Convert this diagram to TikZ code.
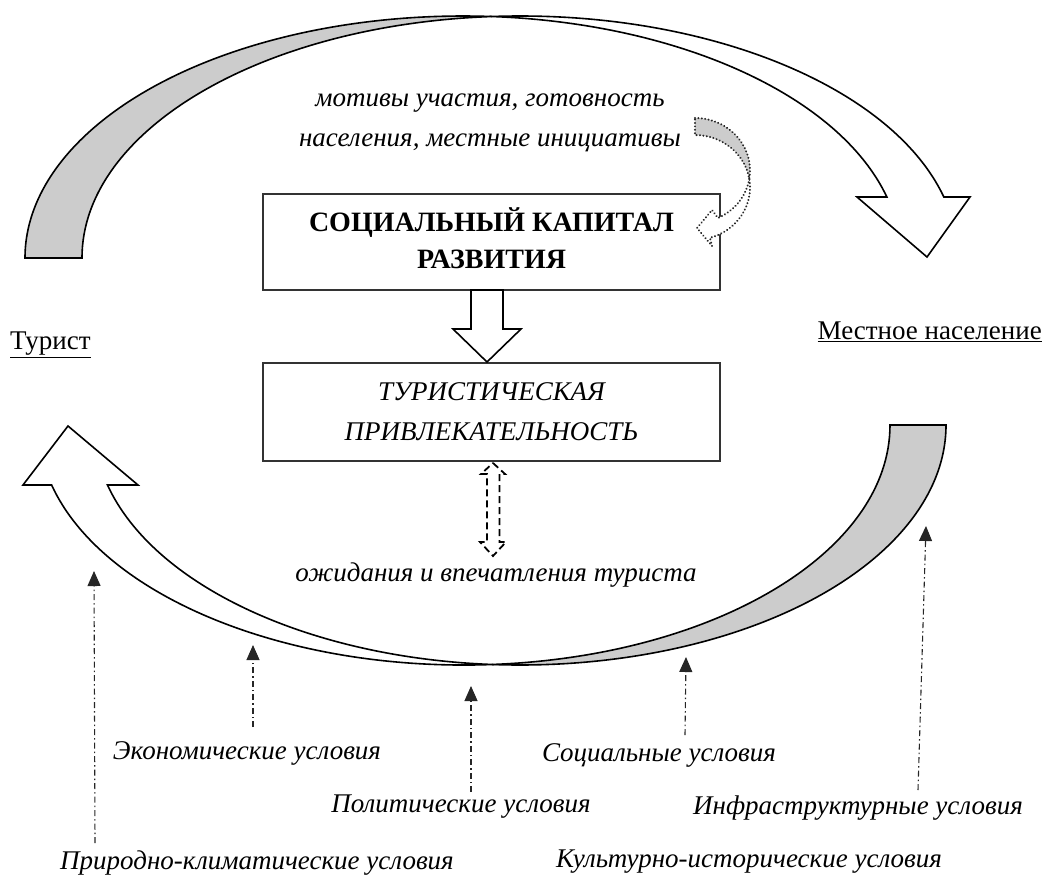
\documentclass[tikz,border=0pt]{standalone}
\usepackage{fontspec}
\setmainfont{Liberation Serif}
\usetikzlibrary{arrows.meta,calc}

\begin{document}
\begin{tikzpicture}[x=1pt,y=-1pt,
  band/.style={draw=black, line width=1.6pt, line join=miter},
  backface/.style={band, fill=gray!40},
  frontface/.style={band, fill=white},
  dotband/.style={draw=black!85, line width=2.2pt, line cap=round, dash pattern=on 0.01pt off 3.4pt},
  boxnode/.style={draw=black!80, line width=1.2pt, minimum width=457pt, align=center, inner sep=0pt},
  txt/.style={font=\fontsize{27}{39}\selectfont, inner sep=0pt},
  lbl/.style={txt, font=\fontsize{27}{40}\selectfont\itshape},
  factor/.style={draw=black!85, line width=1.1pt, dash pattern=on 6pt off 3pt on 1.5pt off 3pt,
    -{Triangle[length=15pt,width=13pt]}},
]
\useasboundingbox (0,0) rectangle (1046,884);

% upper curved arrow: from the tourist to the local population
\filldraw[backface] (25,258)
  arc[start angle=-180, end angle=-86.27, x radius=438, y radius=242]
  arc[start angle=-93.73, end angle=-180, x radius=438, y radius=242] -- cycle;
\filldraw[frontface] (491.5,16.5)
  arc[start angle=-86.27, end angle=-14.6, x radius=438, y radius=242]
  -- (857,197) -- (927,257) -- (970,197) -- (943.85,197)
  arc[start angle=-14.6, end angle=-93.73, x radius=438, y radius=242] -- cycle;

% lower curved arrow: from the local population back to the tourist
\filldraw[backface] (946,425)
  arc[start angle=0, end angle=93.77, x radius=426, y radius=240]
  arc[start angle=86.23, end angle=0, x radius=426, y radius=240] -- cycle;
\filldraw[frontface] (492.1,664.5)
  arc[start angle=86.23, end angle=165.52, x radius=426, y radius=240]
  -- (23,485) -- (68,426) -- (138,485) -- (107.5,485)
  arc[start angle=165.52, end angle=93.77, x radius=426, y radius=240] -- cycle;

% boxes
\node[boxnode, minimum height=96pt, txt, font=\fontsize{28}{37}\selectfont\bfseries, text depth=7pt]
  (cap) at (491.5,242) {СОЦИАЛЬНЫЙ КАПИТАЛ\\РАЗВИТИЯ};
\node[boxnode, minimum height=98pt, lbl]
  (attr) at (491.5,412) {ТУРИСТИЧЕСКАЯ\\ПРИВЛЕКАТЕЛЬНОСТЬ};

% block arrow between the boxes
\filldraw[frontface] (471,290) -- (503,290) -- (503,329) -- (521,329) -- (487,362)
  -- (453,329) -- (471,329) -- cycle;

% texts
\node[lbl, align=center] (motives) at (490,123) {мотивы участия, готовность\\населения, местные инициативы};
\node[txt, anchor=west] (tourist) at (10,345) {\underline{Турист}};
\node[txt, anchor=east] (locals) at (1042,332) {\underline{Местное население}};
\node[lbl] (expect) at (496,575) {ожидания и впечатления туриста};

% dotted curved arrow into the capital box
\filldraw[dotband, fill=gray!40] (695,118)
  arc[start angle=-90, end angle=9.34, x radius=55, y radius=52.4]
  arc[start angle=-9.34, end angle=-90, x radius=55, y radius=52.4] -- cycle;
\filldraw[dotband, fill=white] (749.27,178.9)
  arc[start angle=9.34, end angle=65.3, x radius=55, y radius=52.4]
  -- (712,210) -- (697,228) -- (712,246) -- (710,237.8)
  arc[start angle=74.2, end angle=-9.34, x radius=55, y radius=52.4] -- cycle;

% dashed double arrow between attractiveness and expectations
\draw[draw=black, line width=1.8pt, dash pattern=on 7pt off 4pt]
  (493,463) -- (505,474) -- (499.5,474) -- (499.5,542) -- (506,542) -- (493,556)
  -- (480,542) -- (487,542) -- (487,474) -- (481,474) -- cycle;

% conditions
\node[lbl] (econ) at (247,753) {Экономические условия};
\node[lbl] (pol) at (461,807) {Политические условия};
\node[lbl] (nat) at (257,863) {Природно-климатические условия};
\node[lbl] (soc) at (659,755) {Социальные условия};
\node[lbl] (infra) at (858,808) {Инфраструктурные условия};
\node[lbl] (cult) at (749,862) {Культурно-исторические условия};

\coordinate (s1) at (95,843);  \coordinate (e1) at (94,571);
\coordinate (s2) at (253,727); \coordinate (e2) at (253,645);
\coordinate (s3) at (471,792); \coordinate (e3) at (471,686);
\coordinate (s4) at (685,735); \coordinate (e4) at (686,657);
\coordinate (s5) at (918,790); \coordinate (e5) at (926,526);
\foreach \i in {1,...,5} \draw[factor] (s\i) -- (e\i);
\end{tikzpicture}
\end{document}
